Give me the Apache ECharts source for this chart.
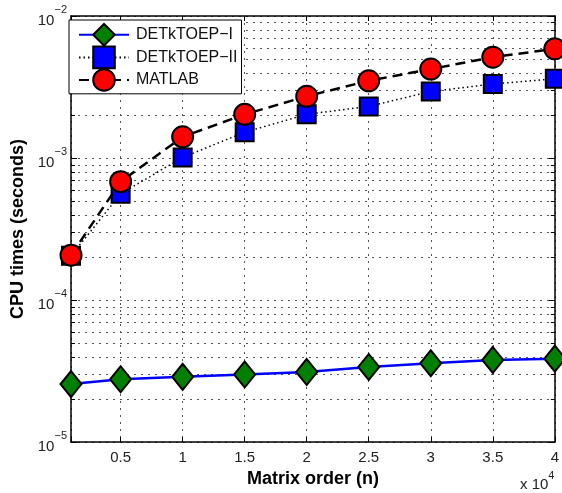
<!DOCTYPE html>
<html>
<head>
<meta charset="utf-8">
<script src="https://cdn.jsdelivr.net/npm/echarts@6/dist/echarts.min.js"></script>
<style>
  html, body { margin: 0; padding: 0; background: #fff; }
  #main { width: 562px; height: 493px; }
</style>
</head>
<body>
<div id="main"></div>
<script>
// matrix order n
var orders = [1000, 5000, 10000, 15000, 20000, 25000, 30000, 35000, 40000];
// CPU times in seconds
var detkToepI = [2.56e-5, 2.77e-5, 2.88e-5, 2.99e-5, 3.12e-5, 3.38e-5, 3.59e-5, 3.79e-5, 3.87e-5];
var detkToepII = [2.05e-4, 5.6e-4, 1.01e-3, 1.52e-3, 2.03e-3, 2.31e-3, 2.94e-3, 3.32e-3, 3.61e-3];
var matlabTimes = [2.07e-4, 6.82e-4, 1.41e-3, 2.03e-3, 2.72e-3, 3.50e-3, 4.23e-3, 5.13e-3, 5.87e-3];
var seriesNames = ['DETkTOEP−I', 'DETkTOEP−II', 'MATLAB'];
// minor log grid lines (2..9 in each decade)
var decades = [1e-5, 1e-4, 1e-3];
var minorSteps = [2, 3, 4, 5, 6, 7, 8, 9];
var xMin = 1000, xMax = 40000;

var FONT = 'Liberation Sans, Arial, Helvetica, sans-serif';
var GRID_COLOR = '#555';

function pairs(ys) {
    var out = [];
    for (var i = 0; i < orders.length; i++) {
        out.push([orders[i], ys[i]]);
    }
    return out;
}

var minorValues = [];
for (var d = 0; d < decades.length; d++) {
    for (var k = 0; k < minorSteps.length; k++) {
        minorValues.push([xMin, decades[d] * minorSteps[k]]);
    }
}

var dotStyle = { color: GRID_COLOR, width: 1, type: [2, 5] };

var myChart = echarts.init(document.getElementById('main'));
var option = {
    backgroundColor: '#fff',
    animation: false,
    textStyle: { fontFamily: FONT },
    grid: { left: 71, right: 5, top: 16, bottom: 50 },
    legend: {
        orient: 'vertical',
        left: 69,
        top: 20,
        data: seriesNames,
        backgroundColor: '#fff',
        borderColor: '#000',
        borderWidth: 1,
        padding: [3, 4, 2, 9],
        itemWidth: 50,
        itemHeight: 27,
        itemGap: -1,
        textStyle: { fontFamily: FONT, fontSize: 16, color: '#111', padding: [0, 0, 0, 2] }
    },
    xAxis: [{
        type: 'value',
        min: xMin,
        max: xMax,
        splitNumber: 8,
        minInterval: 5000,
        maxInterval: 5000,
        name: 'Matrix order (n)',
        nameLocation: 'middle',
        nameGap: 26,
        nameTextStyle: { fontFamily: FONT, fontSize: 18, fontWeight: 'bold', color: '#000' },
        axisLine: { show: true, lineStyle: { color: '#000', width: 1.5 } },
        axisTick: { show: true, inside: true, length: 5, lineStyle: { color: '#000' } },
        axisLabel: {
            fontFamily: FONT, fontSize: 15, color: '#222', margin: 8,
            formatter: function (v) { return v === xMin ? '' : String(v / 10000); }
        },
        splitLine: { show: true, lineStyle: dotStyle }
    }, {
        type: 'value',
        position: 'top',
        min: xMin,
        max: xMax,
        splitNumber: 8,
        minInterval: 5000,
        maxInterval: 5000,
        axisLine: { show: true, lineStyle: { color: '#000', width: 1.5 } },
        axisTick: { show: true, inside: true, length: 5, lineStyle: { color: '#000' } },
        axisLabel: { show: false },
        splitLine: { show: false }
    }],
    yAxis: [{
        type: 'log',
        logBase: 10,
        min: 1e-5,
        max: 1e-2,
        splitNumber: 3,
        name: 'CPU times (seconds)',
        nameLocation: 'middle',
        nameGap: 44,
        nameTextStyle: { fontFamily: FONT, fontSize: 18, fontWeight: 'bold', color: '#000' },
        axisLine: { show: true, lineStyle: { color: '#000', width: 1.5 } },
        axisTick: { show: true, inside: true, length: 6, lineStyle: { color: '#000' } },
        axisLabel: {
            margin: 4,
            formatter: function (v) {
                var e = Math.round(Math.log(v) / Math.LN10);
                return '{b|10}{s|−' + Math.abs(e) + '}';
            },
            rich: {
                b: { fontFamily: FONT, fontSize: 15, color: '#222', lineHeight: 24, verticalAlign: 'bottom' },
                s: { fontFamily: FONT, fontSize: 11, color: '#222', verticalAlign: 'top' }
            }
        },
        splitLine: { show: true, lineStyle: dotStyle }
    }, {
        type: 'log',
        logBase: 10,
        position: 'right',
        min: 1e-5,
        max: 1e-2,
        splitNumber: 3,
        axisLine: { show: true, lineStyle: { color: '#000', width: 1.5 } },
        axisTick: { show: true, inside: true, length: 6, lineStyle: { color: '#000' } },
        axisLabel: { show: false },
        splitLine: { show: false }
    }],
    graphic: [{
        type: 'text',
        left: 520,
        top: 470,
        style: {
            text: '{b|x 10}{s|4}',
            rich: {
                b: { fontFamily: FONT, fontSize: 15, fill: '#222', lineHeight: 22, verticalAlign: 'bottom' },
                s: { fontFamily: FONT, fontSize: 11, fill: '#222', verticalAlign: 'top' }
            }
        }
    }],
    series: [{
        // minor log grid + minor ticks
        type: 'custom',
        silent: true,
        z: 1,
        data: minorValues,
        encode: { x: 0, y: 1 },
        renderItem: function (params, api) {
            var v = api.value(1);
            var p1 = api.coord([xMin, v]);
            var p2 = api.coord([xMax, v]);
            var y = Math.round(p1[1]) + 0.5;
            return {
                type: 'group',
                children: [{
                    type: 'line',
                    shape: { x1: p1[0], y1: y, x2: p2[0], y2: y },
                    style: { stroke: GRID_COLOR, lineWidth: 1, lineDash: [2, 5] }
                }, {
                    type: 'line',
                    shape: { x1: p1[0], y1: y, x2: p1[0] + 4, y2: y },
                    style: { stroke: '#000', lineWidth: 1 }
                }, {
                    type: 'line',
                    shape: { x1: p2[0] - 4, y1: y, x2: p2[0], y2: y },
                    style: { stroke: '#000', lineWidth: 1 }
                }]
            };
        }
    }, {
        name: seriesNames[0],
        type: 'line',
        data: pairs(detkToepI),
        clip: false,
        symbol: 'diamond',
        symbolSize: [21, 26],
        lineStyle: { color: '#0000ff', width: 2.5 },
        itemStyle: { color: '#007f00', borderColor: '#000', borderWidth: 2 },
        z: 2
    }, {
        name: seriesNames[1],
        type: 'line',
        data: pairs(detkToepII),
        clip: false,
        symbol: 'rect',
        symbolSize: 18,
        lineStyle: { color: '#000', width: 1.5, type: [1.5, 3] },
        itemStyle: { color: '#0000ff', borderColor: '#000', borderWidth: 2 },
        z: 3
    }, {
        name: seriesNames[2],
        type: 'line',
        data: pairs(matlabTimes),
        clip: false,
        symbol: 'circle',
        symbolSize: 21,
        lineStyle: { color: '#000', width: 2.5, type: [10, 6] },
        itemStyle: { color: '#ff0000', borderColor: '#000', borderWidth: 2 },
        z: 4
    }]
};
myChart.setOption(option);
</script>
</body>
</html>
